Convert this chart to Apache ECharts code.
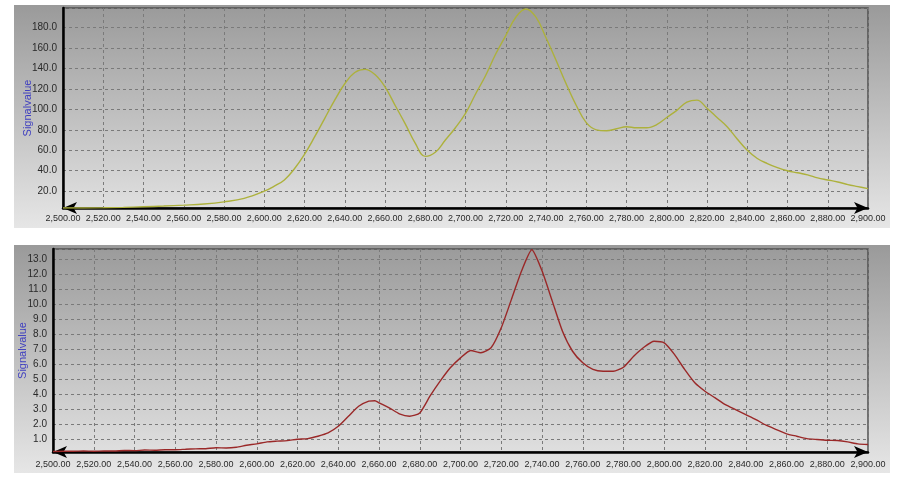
<!DOCTYPE html>
<html><head><meta charset="utf-8">
<script src="https://cdn.jsdelivr.net/npm/echarts@6/dist/echarts.min.js"></script>
<style>html,body{margin:0;padding:0;background:#fff}#c{width:904px;height:488px}</style>
</head><body><div id="c"></div>
<script>
// X positions (shared)
const xTop = [2500,2510,2520,2530,2540,2550,2560,2570,2580,2590,2600,2605,2610,2615,2620,2625,2630,2635,2640,2645,2650,2655,2660,2665,2670,2675,2680,2685,2690,2695,2700,2705,2710,2715,2720,2725,2730,2735,2740,2745,2750,2755,2760,2765,2770,2775,2780,2785,2790,2795,2800,2805,2810,2815,2820,2825,2830,2835,2840,2845,2850,2855,2860,2865,2870,2875,2880,2885,2890,2895,2900];
const yTop = [3.6,3.6,3.8,4.2,4.8,5.5,6.4,7.5,9.6,13,20,25,31,42,56,73,91,109,125,136,139,134,122,104,86,67,54,58,70,82,96,115,133,154,172,190,198,190,170,148,125,104,87,80,79,81,83,82,82,85,92,99,107,109,101,92,83,71,60,52,47,43,40,38,36,33,31,29,26.5,24.5,22.5];

const xBot = [2500,2505,2510,2515,2520,2525,2530,2535,2540,2545,2550,2555,2560,2565,2570,2575,2580,2585,2590,2595,2600,2605,2610,2615,2620,2625,2630,2635,2640,2645,2650,2655,2658,2660,2665,2670,2675,2680,2685,2690,2695,2700,2705,2710,2715,2720,2725,2730,2735,2740,2745,2750,2755,2760,2765,2770,2775,2780,2785,2790,2795,2800,2805,2810,2815,2820,2825,2830,2835,2840,2845,2850,2855,2860,2865,2870,2875,2880,2885,2890,2895,2900];
const yBot = [0.18,0.2,0.2,0.22,0.2,0.22,0.22,0.25,0.24,0.28,0.27,0.3,0.3,0.33,0.36,0.37,0.43,0.42,0.47,0.6,0.69,0.82,0.87,0.91,1.0,1.04,1.2,1.42,1.86,2.53,3.19,3.53,3.56,3.42,3.09,2.69,2.53,2.75,3.86,4.86,5.75,6.41,6.9,6.75,7.08,8.41,10.3,12.2,13.6,12.2,10.2,8.2,6.85,6.08,5.64,5.52,5.52,5.79,6.52,7.12,7.52,7.41,6.64,5.64,4.75,4.19,3.75,3.3,2.97,2.64,2.31,1.93,1.64,1.36,1.2,1.04,0.98,0.93,0.91,0.82,0.69,0.65];

const yAxisName = 'Signalvalue';

const pair = (xs, ys) => xs.map((x, i) => [x, ys[i]]);
const fmtX = v => v.toLocaleString('en-US', {minimumFractionDigits: 2, maximumFractionDigits: 2});
const FONT = "'Liberation Sans', Arial, sans-serif";
const grad = {type: 'linear', x: 0, y: 0, x2: 0, y2: 1, colorStops: [{offset: 0, color: '#9a9a9a'}, {offset: 1, color: '#e6e6e6'}]};
const split = {show: true, lineStyle: {color: '#7a7a7a', type: [3, 3], width: 1}};

function xAxis(gi, margin) {
  return {
    type: 'value', gridIndex: gi, min: 2500, max: 2900, interval: 20,
    axisLine: {show: true, symbol: ['arrow', 'arrow'], symbolSize: [9, 14], lineStyle: {color: '#000', width: 2.5}},
    axisTick: {show: false},
    axisLabel: {formatter: fmtX, margin: margin, color: '#2a2a2a', fontSize: 9, fontFamily: FONT,
                showMinLabel: true, showMaxLabel: true, hideOverlap: false},
    splitLine: split
  };
}
function yAxis(gi, min, max, splitNumber, gap) {
  return {
    type: 'value', gridIndex: gi, min: min, max: max, splitNumber: splitNumber,
    name: yAxisName, nameLocation: 'middle', nameGap: gap, nameRotate: 90, nameMoveOverlap: false,
    nameTextStyle: {color: '#4040c0', fontSize: 11, fontFamily: FONT},
    axisLine: {show: true, lineStyle: {color: '#000', width: 2.5}},
    axisTick: {show: false},
    axisLabel: {formatter: v => v.toFixed(1), margin: 6, showMinLabel: false, showMaxLabel: false,
                color: '#2a2a2a', fontSize: 10, fontFamily: FONT},
    splitLine: split
  };
}

const chart = echarts.init(document.getElementById('c'), null, {renderer: 'canvas'});
chart.setOption({
  animation: false,
  backgroundColor: '#fff',
  graphic: [
    {type: 'rect', z: -10, shape: {x: 14, y: 5, width: 876, height: 223}, style: {fill: grad}},
    {type: 'rect', z: -10, shape: {x: 14, y: 245, width: 876, height: 228}, style: {fill: grad}}
  ],
  grid: [
    {left: 63, top: 8, width: 805, height: 200, show: true, borderColor: '#505050', borderWidth: 1.5, backgroundColor: 'transparent'},
    {left: 53, top: 249, width: 815, height: 203, show: true, borderColor: '#505050', borderWidth: 1.5, backgroundColor: 'transparent'}
  ],
  xAxis: [xAxis(0, 6), xAxis(1, 8)],
  yAxis: [yAxis(0, 3.6, 199, 10, 30), yAxis(1, 0.15, 13.65, 13, 25)],
  series: [
    {type: 'line', xAxisIndex: 0, yAxisIndex: 0, data: pair(xTop, yTop), smooth: 0.4, showSymbol: false,
     lineStyle: {color: '#adb13c', width: 1.4}},
    {type: 'line', xAxisIndex: 1, yAxisIndex: 1, data: pair(xBot, yBot), smooth: 0.2, showSymbol: false,
     lineStyle: {color: '#9a2828', width: 1.4}}
  ]
});
</script></body></html>
